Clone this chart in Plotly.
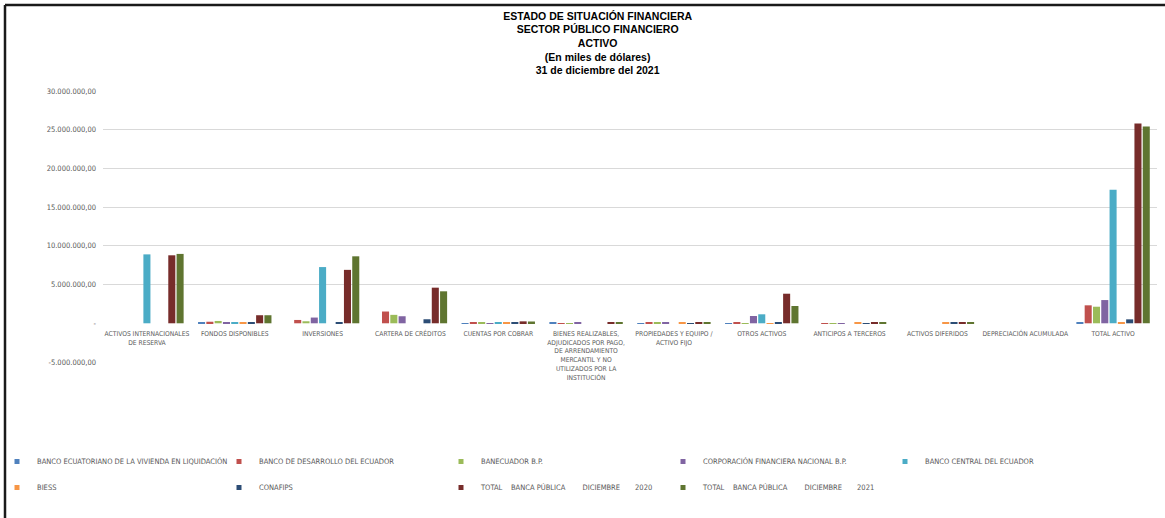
import plotly.graph_objects as go

categories = [
    "ACTIVOS INTERNACIONALES<br>DE RESERVA",
    "FONDOS DISPONIBLES",
    "INVERSIONES",
    "CARTERA DE CRÉDITOS",
    "CUENTAS POR COBRAR",
    "BIENES REALIZABLES,<br>ADJUDICADOS POR PAGO,<br>DE ARRENDAMIENTO<br>MERCANTIL Y NO<br>UTILIZADOS POR LA<br>INSTITUCIÓN",
    "PROPIEDADES Y EQUIPO /<br>ACTIVO FIJO",
    "OTROS ACTIVOS",
    "ANTICIPOS A TERCEROS",
    "ACTIVOS DIFERIDOS",
    "DEPRECIACIÓN ACUMULADA",
    "TOTAL ACTIVO",
]

NB = "\u00a0"
series_names = [
    "BANCO ECUATORIANO DE LA VIVIENDA EN LIQUIDACIÓN",
    "BANCO DE DESARROLLO DEL ECUADOR",
    "BANECUADOR B.P.",
    "CORPORACIÓN FINANCIERA NACIONAL B.P.",
    "BANCO CENTRAL DEL ECUADOR",
    "BIESS",
    "CONAFIPS",
    "TOTAL" + NB * 4 + "BANCA PÚBLICA" + NB * 8 + "DICIEMBRE" + NB * 7 + "2020",
    "TOTAL" + NB * 4 + "BANCA PÚBLICA" + NB * 8 + "DICIEMBRE" + NB * 7 + "2021",
]

bev = [0, 90000, 0, 0, 20000, 50000, 20000, 30000, 0, 0, 0, 170000]
bde = [0, 200000, 430000, 1520000, 60000, 30000, 50000, 40000, 5000, 0, 0, 2320000]
banecuador = [0, 300000, 260000, 1090000, 40000, 20000, 60000, 30000, 5000, 0, 0, 2140000]
cfn = [0, 170000, 740000, 910000, 30000, 40000, 40000, 940000, 5000, 0, 0, 3000000]
bce = [8900000, 60000, 7260000, 0, 50000, 0, 0, 1160000, 0, 0, 0, 17240000]
biess = [0, 50000, 0, 0, 70000, 0, 80000, 30000, 60000, 60000, 0, 60000]
conafips = [0, 60000, 90000, 520000, 60000, 0, 30000, 50000, 30000, 40000, 0, 510000]
total_2020 = [8780000, 1040000, 6900000, 4600000, 250000, 90000, 150000, 3820000, 80000, 80000, 0, 25800000]
total_2021 = [8960000, 1040000, 8650000, 4130000, 230000, 80000, 140000, 2230000, 70000, 70000, 0, 25400000]

series_values = [bev, bde, banecuador, cfn, bce, biess, conafips, total_2020, total_2021]
colors = ["#4F81BD", "#C0504D", "#9BBB59", "#8064A2", "#4BACC6",
          "#F79646", "#2C4D75", "#772C2A", "#5F7530"]

y_tickvals = [-5000000, 0, 5000000, 10000000, 15000000, 20000000, 25000000, 30000000]
y_ticktext = ["-5.000.000,00", "-", "5.000.000,00", "10.000.000,00", "15.000.000,00",
              "20.000.000,00", "25.000.000,00", "30.000.000,00"]
grid_vals = [v for v in y_tickvals if v != 0]

FONT = "DejaVu Sans Condensed, Liberation Sans Narrow, sans-serif"
TFONT = "Liberation Sans Narrow, Liberation Sans, Arial, sans-serif"

W, H = 1165, 518
L, R, T, B = 103, 8, 91, 156
pw = W - L - R
ph = H - T - B

fig = go.Figure()
for i, (name, vals, col) in enumerate(zip(series_names, series_values, colors)):
    lg = "legend" if i < 5 else "legend2"
    fig.add_trace(go.Bar(x=categories, y=vals, name=name, marker_color=col,
                         marker_line_width=0, showlegend=False, legendgroup=name))
    # small square legend key
    fig.add_trace(go.Scatter(x=[None], y=[None], mode="markers", name=name,
                             marker=dict(symbol="square", size=5, color=col),
                             legendgroup=name, legend=lg, showlegend=True))

legend_common = dict(
    orientation="h", xanchor="left", yanchor="top",
    font=dict(family=FONT, size=7.5, color="#595959"),
    itemwidth=30, entrywidth=177, entrywidthmode="pixels",
    bgcolor="rgba(0,0,0,0)", itemclick=False, itemdoubleclick=False,
)

fig.update_layout(
    width=W, height=H,
    margin=dict(l=L, r=R, t=T, b=B, autoexpand=False),
    paper_bgcolor="white", plot_bgcolor="white",
    barmode="group", bargap=0.15, bargroupgap=0.15,
    title=dict(
        text="<b>ESTADO DE SITUACIÓN FINANCIERA<br>SECTOR PÚBLICO FINANCIERO<br>ACTIVO<br>(En miles de dólares)<br>31 de diciembre del 2021</b>",
        x=0.513, xanchor="center", y=0.962, yanchor="top",
        font=dict(family=TFONT, size=10.5, color="#000000"),
    ),
    font=dict(family=FONT, size=7, color="#595959"),
    xaxis=dict(
        anchor="free", position=1 / 7, showline=False, ticks="",
        tickfont=dict(family=FONT, size=6.7, color="#595959"), tickangle=0,
        showgrid=False, zeroline=False, ticklabelstandoff=5,
    ),
    yaxis=dict(
        range=[-5000000, 30000000], tickvals=y_tickvals, ticktext=y_ticktext,
        showgrid=False, zeroline=False, showline=False, ticks="",
        minor=dict(tickvals=grid_vals, showgrid=True, gridcolor="#D9D9D9", gridwidth=1, ticks=""),
        tickfont=dict(family=FONT, size=7.5, color="#595959"), ticklabelstandoff=6,
    ),
    legend=dict(legend_common, x=(-3 - L) / pw, y=(T + ph - 447) / ph),
    legend2=dict(legend_common, x=(-3 - L) / pw, y=(T + ph - 473) / ph),
    showlegend=True,
    shapes=[
        dict(type="line", xref="paper", yref="paper",
             x0=(5 - L) / pw, x1=(W - L) / pw, y0=(T + ph - 5) / ph, y1=(T + ph - 5) / ph,
             line=dict(color="#1a1a1a", width=2.5)),
        dict(type="line", xref="paper", yref="paper",
             x0=(5 - L) / pw, x1=(5 - L) / pw, y0=(T + ph - 5) / ph, y1=(T + ph - H) / ph,
             line=dict(color="#1a1a1a", width=2.5)),
    ],
)

fig.write_html("out.html", config={"displayModeBar": False},
               post_script="document.body.style.margin='0';")
